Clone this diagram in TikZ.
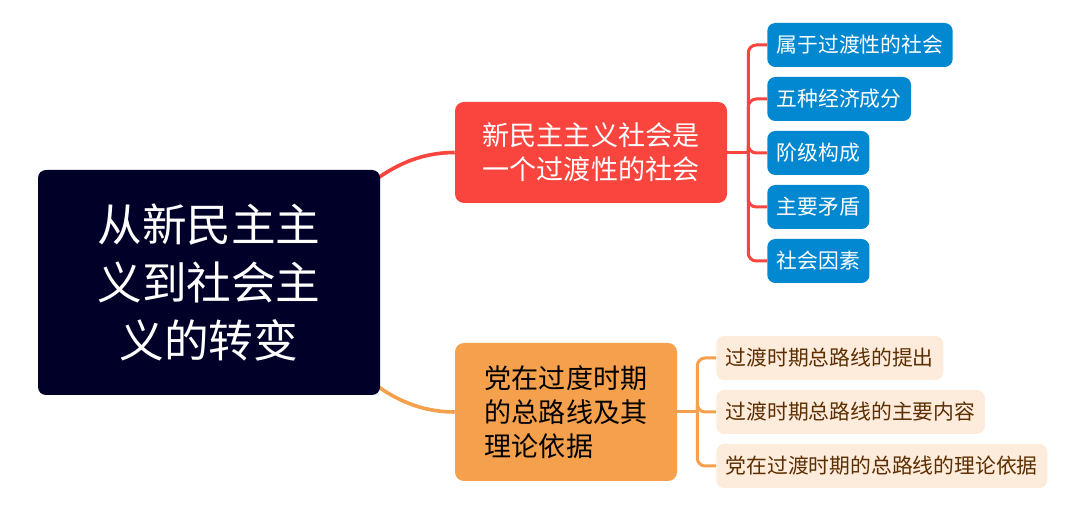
\documentclass[tikz,border=0pt]{standalone}
\usepackage{fontspec}
\setmainfont{Noto Sans CJK SC}
\usetikzlibrary{backgrounds}
\definecolor{NAVY}{HTML}{000028}
\definecolor{RED}{HTML}{FA443E}
\definecolor{BLUE}{HTML}{0288D1}
\definecolor{ORANGE}{HTML}{F5A04D}
\definecolor{PEACH}{HTML}{FDEBDC}
\definecolor{BROWN}{HTML}{5C2E00}
\newdimen\px \px=0.75pt
\begin{document}
\begin{tikzpicture}[x=0.75pt,y=-0.75pt]
\tikzset{rootbox/.style={fill=NAVY,text=white,rounded corners=8\px,inner sep=0pt,minimum width=342\px,minimum height=225\px,align=center,font=\fontsize{33.5}{43.5}\selectfont},
 mainbox/.style={rounded corners=9\px,inner sep=0pt,font=\fontsize{20.3}{25.5}\selectfont},
 leaf/.style={anchor=west,rounded corners=8\px,inner xsep=9.5\px,inner ysep=0pt,minimum height=44\px,font=\fontsize{15.6}{18}\selectfont},
 blueleaf/.style={leaf,fill=BLUE,text=white},peachleaf/.style={leaf,fill=PEACH,text=BROWN},
 branch/.style={line width=3.6\px},twig/.style={line width=3\px,rounded corners=8\px}}
\useasboundingbox (0,0) rectangle (1075,509);
\node[rootbox] (root) at (209,282.5) {从新民主主\\义到社会主\\义的转变};
\node[mainbox,fill=RED,text=white,minimum width=272\px,minimum height=101\px,align=center] (soc) at (591,152.5) {新民主主义社会是\\一个过渡性的社会};
\node[mainbox,fill=ORANGE,text=black,minimum width=222\px,minimum height=138\px,align=left] (line) at (566,412) {党在过度时期\\的总路线及其\\理论依据};
\foreach \t [count=\i] in {属于过渡性的社会,五种经济成分,阶级构成,主要矛盾,社会因素}
 \node[blueleaf] (b\i) at (767,{45+54*(\i-1)}) {\t};
\foreach \t [count=\i] in {过渡时期总路线的提出,过渡时期总路线的主要内容,党在过渡时期的总路线的理论依据}
 \node[peachleaf] (p\i) at (716,{358+54*(\i-1)}) {\t};
\begin{pgfonlayer}{background}
\draw[branch,RED] (root.center) to[out=0,in=180] (soc.west);
\draw[branch,ORANGE] (root.center) to[out=0,in=180] (line.west);
\draw[twig,RED] (soc.east) -- ++(21,0) coordinate (socfork);
\foreach \i in {1,...,5}{\draw[twig,RED] (socfork) |- (b\i.west);}
\draw[twig,ORANGE] (line.east) -- ++(20,0) coordinate (linefork);
\foreach \i in {1,...,3}{\draw[twig,ORANGE] (linefork) |- (p\i.west);}
\end{pgfonlayer}
\end{tikzpicture}
\end{document}
